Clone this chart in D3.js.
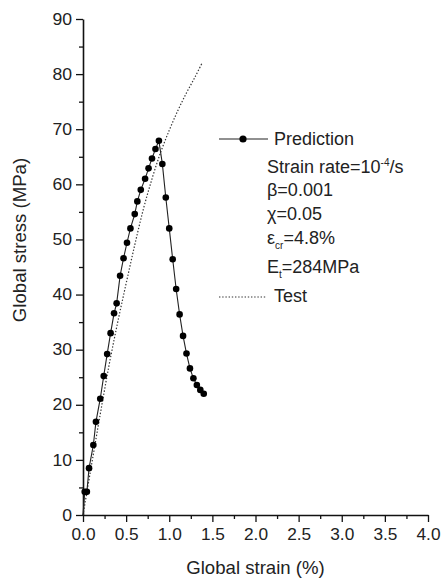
<!DOCTYPE html>
<html>
<head>
<meta charset="utf-8">
<script src="https://cdn.jsdelivr.net/npm/d3@7"></script>
<style>
  body { margin: 0; background: #fff; }
  svg { display: block; font-family: "Liberation Sans", Arial, sans-serif; }
  .stretch { transform-box: fill-box; }
</style>
</head>
<body>
<svg id="chart" width="441" height="579"></svg>
<script>
// prediction curve (global strain %, global stress MPa)
var predStrain = [0, 0.02, 0.045, 0.07, 0.12, 0.15, 0.20, 0.24, 0.28, 0.32, 0.36, 0.39, 0.43, 0.47, 0.51, 0.55,
  0.60, 0.63, 0.67, 0.72, 0.76, 0.80, 0.84, 0.88, 0.92, 0.96, 1.00, 1.04, 1.08, 1.12, 1.16, 1.20,
  1.24, 1.28, 1.32, 1.36, 1.40];
var predStress = [0, 4.2, 4.2, 8.5, 12.7, 16.9, 21.1, 25.2, 29.2, 33.0, 36.6, 38.4, 43.4, 46.6, 49.4, 52.0,
  54.6, 56.9, 59.0, 61.0, 62.9, 64.7, 66.4, 67.9, 63.7, 57.6, 52.0, 46.4, 41.0, 36.4, 32.5, 29.3,
  26.6, 24.8, 23.6, 22.7, 22.0];

// test curve
var testStrain = [0, 0.1, 0.2, 0.3, 0.4, 0.5, 0.6, 0.7, 0.8, 0.9, 1.0, 1.1, 1.2, 1.3, 1.38];
var testStress = [0, 9.2, 18.3, 27.0, 34.8, 42.0, 49.0, 55.5, 61.0, 65.8, 69.8, 73.4, 76.6, 79.5, 82.0];

var xTicks = [0, 0.5, 1.0, 1.5, 2.0, 2.5, 3.0, 3.5, 4.0];
var yTicks = [0, 10, 20, 30, 40, 50, 60, 70, 80, 90];

var svg = d3.select('#chart');

var x = d3.scaleLinear().domain([0, 4]).range([83, 428]);
var y = d3.scaleLinear().domain([0, 90]).range([515, 19]);

//* minor ticks
var xMinor = d3.range(0.25, 4, 0.5);
var yMinor = d3.range(5, 90, 10);

svg.append('g')
  .attr('transform', 'translate(0,515)')
  .call(d3.axisBottom(x).tickValues(xMinor).tickSize(4).tickFormat(''))
  .call(function(g){ g.select('.domain').remove(); })
  .selectAll('line').attr('stroke', '#111').attr('stroke-width', 1.3);

svg.append('g')
  .attr('transform', 'translate(83,0)')
  .call(d3.axisLeft(y).tickValues(yMinor).tickSize(4).tickFormat(''))
  .call(function(g){ g.select('.domain').remove(); })
  .selectAll('line').attr('stroke', '#111').attr('stroke-width', 1.3);

//* main axes
var xAxis = svg.append('g')
  .attr('transform', 'translate(0,515)')
  .call(d3.axisBottom(x).tickValues(xTicks).tickSize(7).tickSizeOuter(0).tickPadding(7)
    .tickFormat(d3.format('.1f')));

var yAxis = svg.append('g')
  .attr('transform', 'translate(83,0)')
  .call(d3.axisLeft(y).tickValues(yTicks).tickSize(7).tickSizeOuter(0).tickPadding(4)
    .tickFormat(d3.format('d')));

[xAxis, yAxis].forEach(function(ax){
  ax.select('.domain').attr('stroke', '#111').attr('stroke-width', 1.6);
  ax.selectAll('.tick line').attr('stroke', '#111').attr('stroke-width', 1.3);
  ax.selectAll('.tick text')
    .attr('font-family', '"Liberation Sans", Arial, sans-serif')
    .attr('font-size', 16)
    .style('fill', '#222')
    .classed('stretch', true);
});
xAxis.selectAll('.tick text').style('transform-origin', '50% 50%').style('transform', 'scaleX(1.08)');
yAxis.selectAll('.tick text').style('transform-origin', '100% 50%').style('transform', 'scaleX(1.1)');

//* axis titles
svg.append('text')
  .attr('x', 255.5)
  .attr('y', 574)
  .attr('font-size', 18.6)
  .style('text-anchor', 'middle')
  .style('fill', '#222')
  .text('Global strain (%)');

svg.append('text')
  .attr('transform', 'translate(26,240) rotate(-90)')
  .attr('font-size', 18.6)
  .style('text-anchor', 'middle')
  .style('fill', '#222')
  .text('Global stress (MPa)');

//* test curve (dotted)
var testPts = testStrain.map(function(d, i){ return [d, testStress[i]]; });
svg.append('path')
  .datum(testPts)
  .attr('fill', 'none')
  .attr('stroke', '#333')
  .attr('stroke-width', 1.2)
  .attr('stroke-dasharray', '1.4,1.8')
  .attr('d', d3.line().curve(d3.curveCatmullRom)
    .x(function(d){ return x(d[0]); })
    .y(function(d){ return y(d[1]); }));

//* prediction curve
var predPts = predStrain.map(function(d, i){ return [d, predStress[i]]; });
svg.append('path')
  .datum(predPts)
  .attr('fill', 'none')
  .attr('stroke', '#222')
  .attr('stroke-width', 1.1)
  .attr('d', d3.line()
    .x(function(d){ return x(d[0]); })
    .y(function(d){ return y(d[1]); }));

svg.append('g').selectAll('circle')
  .data(predPts.filter(function(d){ return d[1] > 0; }))
  .enter().append('circle')
  .attr('cx', function(d){ return x(d[0]); })
  .attr('cy', function(d){ return y(d[1]); })
  .attr('r', 3.3)
  .attr('fill', '#000');

//* legend
var leg = svg.append('g');
leg.append('line')
  .attr('x1', 219).attr('x2', 268).attr('y1', 139).attr('y2', 139)
  .attr('stroke', '#222').attr('stroke-width', 1.1);
leg.append('circle').attr('cx', 243).attr('cy', 139).attr('r', 3.6).attr('fill', '#000');
leg.append('line')
  .attr('x1', 219).attr('x2', 267).attr('y1', 297).attr('y2', 297)
  .attr('stroke', '#333').attr('stroke-width', 1.2).attr('stroke-dasharray', '1.4,1.8');

function legText(xp, yp){
  return leg.append('text')
    .attr('x', xp).attr('y', yp)
    .attr('font-size', 18)
    .style('fill', '#222');
}

legText(274, 145).text('Prediction');
var sr = legText(267, 173);
sr.append('tspan').text('Strain rate=10');
sr.append('tspan').attr('font-size', 10).attr('dy', -7).text('-4');
sr.append('tspan').attr('dy', 7).text('/s');
legText(267, 196).text('\u03b2=0.001');
legText(267, 220).text('\u03c7=0.05');
var ec = legText(267, 244);
ec.append('tspan').text('\u03b5');
ec.append('tspan').attr('font-size', 10).attr('dy', 5).text('cr');
ec.append('tspan').attr('dy', -5).text('=4.8%');
var et = legText(267, 273);
et.append('tspan').text('E');
et.append('tspan').attr('font-size', 10).attr('dy', 5).text('t');
et.append('tspan').attr('dy', -5).text('=284MPa');
legText(274, 302).text('Test');
</script>
</body>
</html>
